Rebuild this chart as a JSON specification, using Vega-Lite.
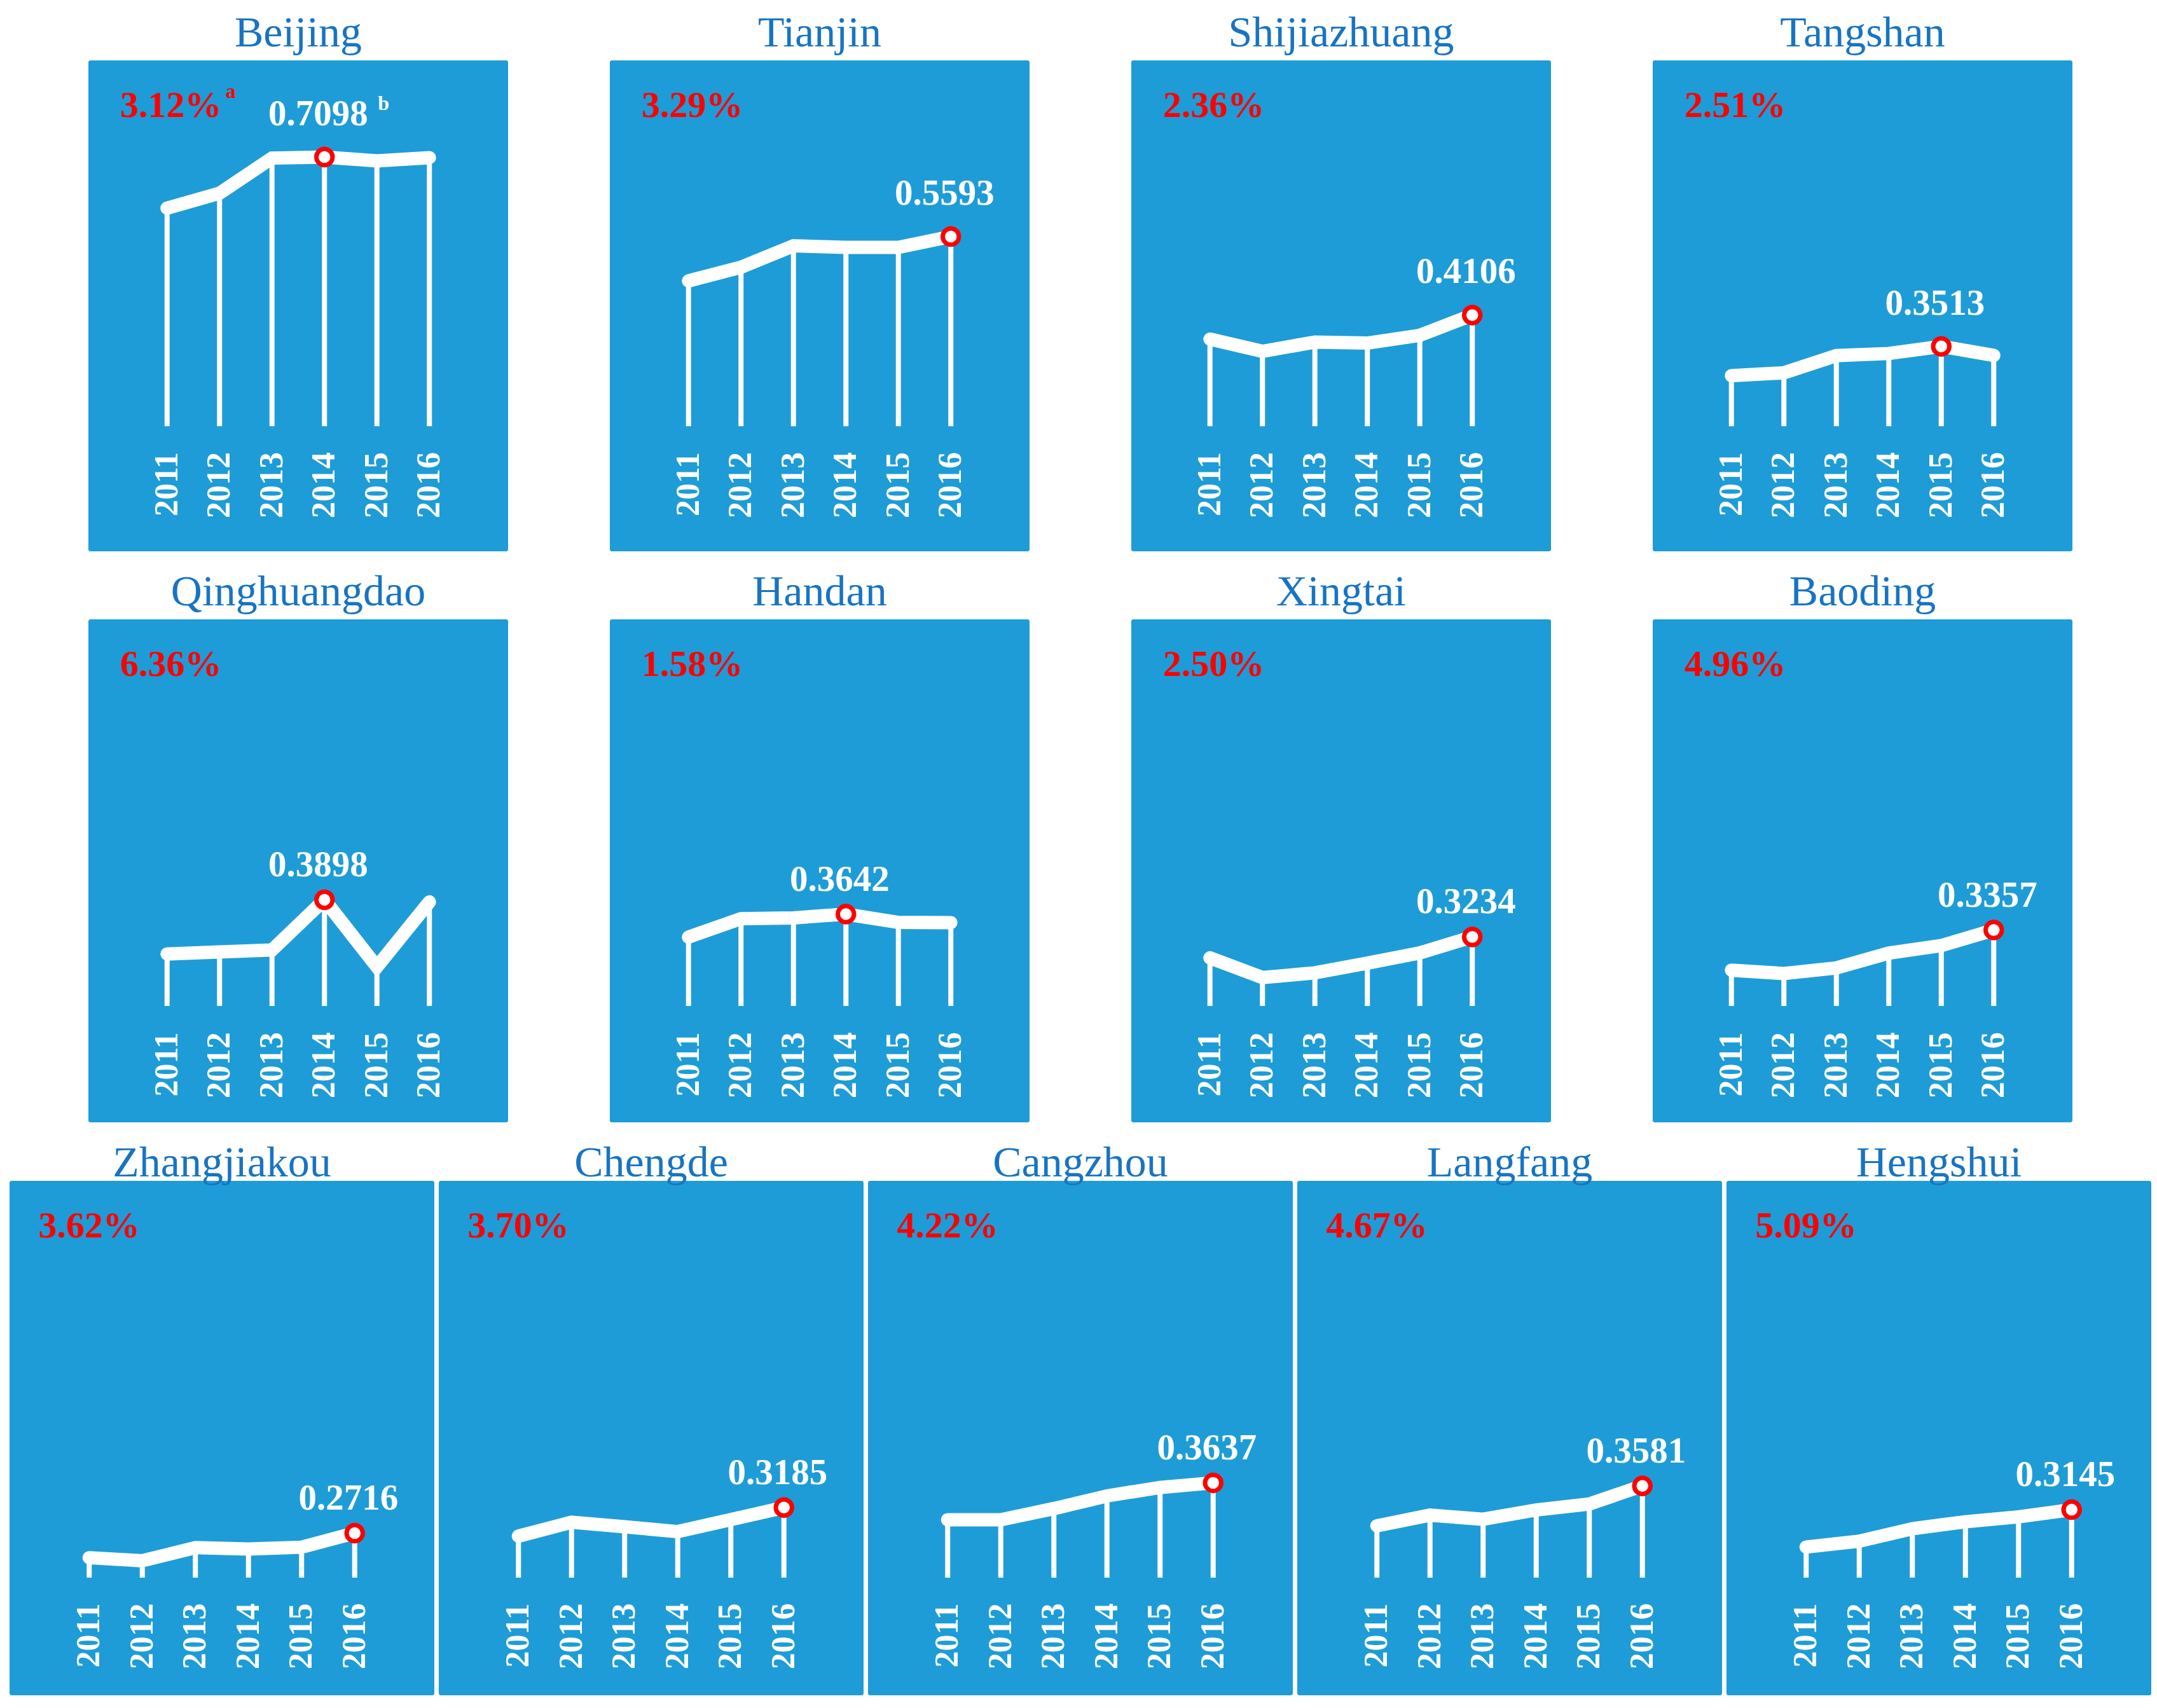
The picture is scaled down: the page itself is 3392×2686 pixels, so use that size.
{
  "$schema": "https://vega.github.io/schema/vega-lite/v6.json",
  "background": "white",
  "padding": {"left": 15, "top": 18, "right": 0, "bottom": 0},
  "center": true,
  "spacing": 30,
  "config": {
    "font": "Liberation Serif",
    "view": {"fill": "#1E9CD7", "stroke": null, "cornerRadius": 3}
  },
  "datasets": {
    "hebei": [
      {"city": "Beijing", "year": 2011, "value": 0.6130, "rate": "3.12%", "rateNote": "a", "valueNote": "b"},
      {"city": "Beijing", "year": 2012, "value": 0.6413, "rate": "3.12%", "rateNote": "a", "valueNote": "b"},
      {"city": "Beijing", "year": 2013, "value": 0.7080, "rate": "3.12%", "rateNote": "a", "valueNote": "b"},
      {"city": "Beijing", "year": 2014, "value": 0.7098, "rate": "3.12%", "rateNote": "a", "valueNote": "b"},
      {"city": "Beijing", "year": 2015, "value": 0.7027, "rate": "3.12%", "rateNote": "a", "valueNote": "b"},
      {"city": "Beijing", "year": 2016, "value": 0.7088, "rate": "3.12%", "rateNote": "a", "valueNote": "b"},
      {"city": "Tianjin", "year": 2011, "value": 0.4753, "rate": "3.29%"},
      {"city": "Tianjin", "year": 2012, "value": 0.5012, "rate": "3.29%"},
      {"city": "Tianjin", "year": 2013, "value": 0.5417, "rate": "3.29%"},
      {"city": "Tianjin", "year": 2014, "value": 0.5389, "rate": "3.29%"},
      {"city": "Tianjin", "year": 2015, "value": 0.5389, "rate": "3.29%"},
      {"city": "Tianjin", "year": 2016, "value": 0.5593, "rate": "3.29%"},
      {"city": "Shijiazhuang", "year": 2011, "value": 0.3650, "rate": "2.36%"},
      {"city": "Shijiazhuang", "year": 2012, "value": 0.3419, "rate": "2.36%"},
      {"city": "Shijiazhuang", "year": 2013, "value": 0.3594, "rate": "2.36%"},
      {"city": "Shijiazhuang", "year": 2014, "value": 0.3574, "rate": "2.36%"},
      {"city": "Shijiazhuang", "year": 2015, "value": 0.3722, "rate": "2.36%"},
      {"city": "Shijiazhuang", "year": 2016, "value": 0.4106, "rate": "2.36%"},
      {"city": "Tangshan", "year": 2011, "value": 0.2958, "rate": "2.51%"},
      {"city": "Tangshan", "year": 2012, "value": 0.3011, "rate": "2.51%"},
      {"city": "Tangshan", "year": 2013, "value": 0.3338, "rate": "2.51%"},
      {"city": "Tangshan", "year": 2014, "value": 0.3378, "rate": "2.51%"},
      {"city": "Tangshan", "year": 2015, "value": 0.3513, "rate": "2.51%"},
      {"city": "Tangshan", "year": 2016, "value": 0.3342, "rate": "2.51%"},
      {"city": "Qinghuangdao", "year": 2011, "value": 0.2930, "rate": "6.36%"},
      {"city": "Qinghuangdao", "year": 2012, "value": 0.2965, "rate": "6.36%"},
      {"city": "Qinghuangdao", "year": 2013, "value": 0.3000, "rate": "6.36%"},
      {"city": "Qinghuangdao", "year": 2014, "value": 0.3898, "rate": "6.36%"},
      {"city": "Qinghuangdao", "year": 2015, "value": 0.2700, "rate": "6.36%"},
      {"city": "Qinghuangdao", "year": 2016, "value": 0.3860, "rate": "6.36%"},
      {"city": "Handan", "year": 2011, "value": 0.3231, "rate": "1.58%"},
      {"city": "Handan", "year": 2012, "value": 0.3561, "rate": "1.58%"},
      {"city": "Handan", "year": 2013, "value": 0.3575, "rate": "1.58%"},
      {"city": "Handan", "year": 2014, "value": 0.3642, "rate": "1.58%"},
      {"city": "Handan", "year": 2015, "value": 0.3494, "rate": "1.58%"},
      {"city": "Handan", "year": 2016, "value": 0.3490, "rate": "1.58%"},
      {"city": "Xingtai", "year": 2011, "value": 0.2860, "rate": "2.50%"},
      {"city": "Xingtai", "year": 2012, "value": 0.2508, "rate": "2.50%"},
      {"city": "Xingtai", "year": 2013, "value": 0.2592, "rate": "2.50%"},
      {"city": "Xingtai", "year": 2014, "value": 0.2766, "rate": "2.50%"},
      {"city": "Xingtai", "year": 2015, "value": 0.2947, "rate": "2.50%"},
      {"city": "Xingtai", "year": 2016, "value": 0.3234, "rate": "2.50%"},
      {"city": "Baoding", "year": 2011, "value": 0.2640, "rate": "4.96%"},
      {"city": "Baoding", "year": 2012, "value": 0.2580, "rate": "4.96%"},
      {"city": "Baoding", "year": 2013, "value": 0.2680, "rate": "4.96%"},
      {"city": "Baoding", "year": 2014, "value": 0.2945, "rate": "4.96%"},
      {"city": "Baoding", "year": 2015, "value": 0.3080, "rate": "4.96%"},
      {"city": "Baoding", "year": 2016, "value": 0.3357, "rate": "4.96%"},
      {"city": "Zhangjiakou", "year": 2011, "value": 0.2265, "rate": "3.62%"},
      {"city": "Zhangjiakou", "year": 2012, "value": 0.2209, "rate": "3.62%"},
      {"city": "Zhangjiakou", "year": 2013, "value": 0.2450, "rate": "3.62%"},
      {"city": "Zhangjiakou", "year": 2014, "value": 0.2425, "rate": "3.62%"},
      {"city": "Zhangjiakou", "year": 2015, "value": 0.2457, "rate": "3.62%"},
      {"city": "Zhangjiakou", "year": 2016, "value": 0.2716, "rate": "3.62%"},
      {"city": "Chengde", "year": 2011, "value": 0.2660, "rate": "3.70%"},
      {"city": "Chengde", "year": 2012, "value": 0.2915, "rate": "3.70%"},
      {"city": "Chengde", "year": 2013, "value": 0.2831, "rate": "3.70%"},
      {"city": "Chengde", "year": 2014, "value": 0.2743, "rate": "3.70%"},
      {"city": "Chengde", "year": 2015, "value": 0.2962, "rate": "3.70%"},
      {"city": "Chengde", "year": 2016, "value": 0.3185, "rate": "3.70%"},
      {"city": "Cangzhou", "year": 2011, "value": 0.2960, "rate": "4.22%"},
      {"city": "Cangzhou", "year": 2012, "value": 0.2960, "rate": "4.22%"},
      {"city": "Cangzhou", "year": 2013, "value": 0.3165, "rate": "4.22%"},
      {"city": "Cangzhou", "year": 2014, "value": 0.3397, "rate": "4.22%"},
      {"city": "Cangzhou", "year": 2015, "value": 0.3552, "rate": "4.22%"},
      {"city": "Cangzhou", "year": 2016, "value": 0.3637, "rate": "4.22%"},
      {"city": "Langfang", "year": 2011, "value": 0.2850, "rate": "4.67%"},
      {"city": "Langfang", "year": 2012, "value": 0.3045, "rate": "4.67%"},
      {"city": "Langfang", "year": 2013, "value": 0.2969, "rate": "4.67%"},
      {"city": "Langfang", "year": 2014, "value": 0.3140, "rate": "4.67%"},
      {"city": "Langfang", "year": 2015, "value": 0.3250, "rate": "4.67%"},
      {"city": "Langfang", "year": 2016, "value": 0.3581, "rate": "4.67%"},
      {"city": "Hengshui", "year": 2011, "value": 0.2460, "rate": "5.09%"},
      {"city": "Hengshui", "year": 2012, "value": 0.2567, "rate": "5.09%"},
      {"city": "Hengshui", "year": 2013, "value": 0.2797, "rate": "5.09%"},
      {"city": "Hengshui", "year": 2014, "value": 0.2924, "rate": "5.09%"},
      {"city": "Hengshui", "year": 2015, "value": 0.3013, "rate": "5.09%"},
      {"city": "Hengshui", "year": 2016, "value": 0.3145, "rate": "5.09%"}
    ]
  },
  "data": {"name": "hebei"},
  "vconcat": [
    {
      "transform": [{"filter": {"field": "city", "oneOf": ["Beijing", "Tianjin", "Shijiazhuang", "Tangshan"]}}],
      "facet": {"field": "city", "type": "nominal", "sort": ["Beijing", "Tianjin", "Shijiazhuang", "Tangshan"],
        "header": {"title": null, "labelExpr": "''", "labelFontSize": 1, "labelPadding": 0}},
      "columns": 4,
      "spacing": 160,
      "spec": {
        "width": 660, "height": 772,
        "resolve": {"scale": {"x": "independent"}},
        "layer": [
          {"layer": [
            {"mark": {"type": "rule", "color": "white", "strokeWidth": 8},
             "encoding": {"x": {"field": "year", "type": "quantitative", "scale": {"domain": [2009.5, 2017.5], "nice": false, "zero": false}, "axis": null},
               "y": {"field": "value", "type": "quantitative", "scale": {"domain": [-0.037, 0.893], "nice": false, "zero": false},
                 "axis": {"labels": false, "ticks": false, "domain": false, "grid": false, "title": null, "minExtent": 82, "maxExtent": 82}},
               "y2": {"datum": 0.2}}},
            {"mark": {"type": "line", "color": "white", "strokeWidth": 21, "strokeCap": "round"},
             "encoding": {"x": {"field": "year", "type": "quantitative"}, "y": {"field": "value", "type": "quantitative"}}},
            {"mark": {"type": "text", "color": "white", "font": "Liberation Serif", "fontWeight": "bold", "fontSize": 52, "angle": 270, "align": "right", "baseline": "middle"},
             "encoding": {"x": {"field": "year", "type": "quantitative"}, "y": {"datum": 0.151}, "text": {"field": "year", "type": "nominal"}}},
            {"transform": [{"joinaggregate": [{"op": "max", "field": "value", "as": "maxValue"}], "groupby": ["city"]}, {"filter": "datum.value === datum.maxValue"}],
             "layer": [
               {"mark": {"type": "point", "shape": "circle", "fill": "white", "fillOpacity": 1, "stroke": "red", "strokeWidth": 7, "size": 650, "opacity": 1},
                "encoding": {"x": {"field": "year", "type": "quantitative"}, "y": {"field": "value", "type": "quantitative"}}},
               {"mark": {"type": "text", "color": "white", "font": "Liberation Serif", "fontWeight": "bold", "fontSize": 57, "baseline": "alphabetic", "dx": -10, "dy": -50},
                "encoding": {"x": {"field": "year", "type": "quantitative"}, "y": {"field": "value", "type": "quantitative"}, "text": {"field": "value", "type": "quantitative", "format": ".4f"}}},
               {"transform": [{"filter": "datum.valueNote"}],
                "mark": {"type": "text", "color": "white", "font": "Liberation Serif", "fontWeight": "bold", "fontSize": 32, "align": "left", "baseline": "alphabetic", "dx": 84, "dy": -74},
                "encoding": {"x": {"field": "year", "type": "quantitative"}, "y": {"field": "value", "type": "quantitative"}, "text": {"field": "valueNote"}}}
             ]},
            {"transform": [{"filter": "datum.year === 2011"}],
             "layer": [
               {"mark": {"type": "text", "color": "red", "font": "Liberation Serif", "fontWeight": "bold", "fontSize": 58, "align": "left", "baseline": "alphabetic", "dx": -74, "dy": 89},
                "encoding": {"x": {"field": "year", "type": "quantitative"}, "y": {"datum": 0.893}, "text": {"field": "rate"}}},
               {"transform": [{"filter": "datum.rateNote"}],
                "mark": {"type": "text", "color": "red", "font": "Liberation Serif", "fontWeight": "bold", "fontSize": 32, "align": "left", "baseline": "alphabetic", "dx": 92, "dy": 59},
                "encoding": {"x": {"field": "year", "type": "quantitative"}, "y": {"datum": 0.893}, "text": {"field": "rateNote"}}}
             ]}
          ]},
          {"transform": [{"filter": "datum.year === 2011"}],
           "mark": {"type": "text", "color": "#1874C2", "font": "Liberation Serif", "fontSize": 68, "align": "center", "baseline": "alphabetic", "dy": -22},
           "encoding": {"x": {"datum": 0.5, "type": "quantitative", "scale": {"domain": [0, 1]}, "axis": null}, "y": {"datum": 0.893}, "text": {"field": "city"}}}
        ]
      }
    },
    {
      "transform": [{"filter": {"field": "city", "oneOf": ["Qinghuangdao", "Handan", "Xingtai", "Baoding"]}}],
      "facet": {"field": "city", "type": "nominal", "sort": ["Qinghuangdao", "Handan", "Xingtai", "Baoding"],
        "header": {"title": null, "labelExpr": "''", "labelFontSize": 1, "labelPadding": 0}},
      "columns": 4,
      "spacing": 160,
      "spec": {
        "width": 660, "height": 791,
        "resolve": {"scale": {"x": "independent"}},
        "layer": [
          {"layer": [
            {"mark": {"type": "rule", "color": "white", "strokeWidth": 8},
             "encoding": {"x": {"field": "year", "type": "quantitative", "scale": {"domain": [2009.5, 2017.5], "nice": false, "zero": false}, "axis": null},
               "y": {"field": "value", "type": "quantitative", "scale": {"domain": [-0.008, 0.891], "nice": false, "zero": false},
                 "axis": {"labels": false, "ticks": false, "domain": false, "grid": false, "title": null, "minExtent": 82, "maxExtent": 82}},
               "y2": {"datum": 0.2}}},
            {"mark": {"type": "line", "color": "white", "strokeWidth": 21, "strokeCap": "round"},
             "encoding": {"x": {"field": "year", "type": "quantitative"}, "y": {"field": "value", "type": "quantitative"}}},
            {"mark": {"type": "text", "color": "white", "font": "Liberation Serif", "fontWeight": "bold", "fontSize": 52, "angle": 270, "align": "right", "baseline": "middle"},
             "encoding": {"x": {"field": "year", "type": "quantitative"}, "y": {"datum": 0.153}, "text": {"field": "year", "type": "nominal"}}},
            {"transform": [{"joinaggregate": [{"op": "max", "field": "value", "as": "maxValue"}], "groupby": ["city"]}, {"filter": "datum.value === datum.maxValue"}],
             "layer": [
               {"mark": {"type": "point", "shape": "circle", "fill": "white", "fillOpacity": 1, "stroke": "red", "strokeWidth": 7, "size": 650, "opacity": 1},
                "encoding": {"x": {"field": "year", "type": "quantitative"}, "y": {"field": "value", "type": "quantitative"}}},
               {"mark": {"type": "text", "color": "white", "font": "Liberation Serif", "fontWeight": "bold", "fontSize": 57, "baseline": "alphabetic", "dx": -10, "dy": -37},
                "encoding": {"x": {"field": "year", "type": "quantitative"}, "y": {"field": "value", "type": "quantitative"}, "text": {"field": "value", "type": "quantitative", "format": ".4f"}}}
             ]},
            {"transform": [{"filter": "datum.year === 2011"}],
             "mark": {"type": "text", "color": "red", "font": "Liberation Serif", "fontWeight": "bold", "fontSize": 58, "align": "left", "baseline": "alphabetic", "dx": -74, "dy": 89},
             "encoding": {"x": {"field": "year", "type": "quantitative"}, "y": {"datum": 0.891}, "text": {"field": "rate"}}}
          ]},
          {"transform": [{"filter": "datum.year === 2011"}],
           "mark": {"type": "text", "color": "#1874C2", "font": "Liberation Serif", "fontSize": 68, "align": "center", "baseline": "alphabetic", "dy": -22},
           "encoding": {"x": {"datum": 0.5, "type": "quantitative", "scale": {"domain": [0, 1]}, "axis": null}, "y": {"datum": 0.891}, "text": {"field": "city"}}}
        ]
      }
    },
    {
      "transform": [{"filter": {"field": "city", "oneOf": ["Zhangjiakou", "Chengde", "Cangzhou", "Langfang", "Hengshui"]}}],
      "facet": {"field": "city", "type": "nominal", "sort": ["Zhangjiakou", "Chengde", "Cangzhou", "Langfang", "Hengshui"],
        "header": {"title": null, "labelExpr": "''", "labelFontSize": 1, "labelPadding": 0}},
      "columns": 5,
      "spacing": 7,
      "spec": {
        "width": 668, "height": 809,
        "resolve": {"scale": {"x": "independent"}},
        "layer": [
          {"layer": [
            {"mark": {"type": "rule", "color": "white", "strokeWidth": 8},
             "encoding": {"x": {"field": "year", "type": "quantitative", "scale": {"domain": [2009.5, 2017.5], "nice": false, "zero": false}, "axis": null},
               "y": {"field": "value", "type": "quantitative", "scale": {"domain": [-0.0256, 0.917], "nice": false, "zero": false}, "axis": null},
               "y2": {"datum": 0.19}}},
            {"mark": {"type": "line", "color": "white", "strokeWidth": 21, "strokeCap": "round"},
             "encoding": {"x": {"field": "year", "type": "quantitative"}, "y": {"field": "value", "type": "quantitative"}}},
            {"mark": {"type": "text", "color": "white", "font": "Liberation Serif", "fontWeight": "bold", "fontSize": 52, "angle": 270, "align": "right", "baseline": "middle"},
             "encoding": {"x": {"field": "year", "type": "quantitative"}, "y": {"datum": 0.143}, "text": {"field": "year", "type": "nominal"}}},
            {"transform": [{"joinaggregate": [{"op": "max", "field": "value", "as": "maxValue"}], "groupby": ["city"]}, {"filter": "datum.value === datum.maxValue"}],
             "layer": [
               {"mark": {"type": "point", "shape": "circle", "fill": "white", "fillOpacity": 1, "stroke": "red", "strokeWidth": 7, "size": 650, "opacity": 1},
                "encoding": {"x": {"field": "year", "type": "quantitative"}, "y": {"field": "value", "type": "quantitative"}}},
               {"mark": {"type": "text", "color": "white", "font": "Liberation Serif", "fontWeight": "bold", "fontSize": 57, "baseline": "alphabetic", "dx": -10, "dy": -37},
                "encoding": {"x": {"field": "year", "type": "quantitative"}, "y": {"field": "value", "type": "quantitative"}, "text": {"field": "value", "type": "quantitative", "format": ".4f"}}}
             ]},
            {"transform": [{"filter": "datum.year === 2011"}],
             "mark": {"type": "text", "color": "red", "font": "Liberation Serif", "fontWeight": "bold", "fontSize": 58, "align": "left", "baseline": "alphabetic", "dx": -80, "dy": 89},
             "encoding": {"x": {"field": "year", "type": "quantitative"}, "y": {"datum": 0.917}, "text": {"field": "rate"}}}
          ]},
          {"transform": [{"filter": "datum.year === 2011"}],
           "mark": {"type": "text", "color": "#1874C2", "font": "Liberation Serif", "fontSize": 68, "align": "center", "baseline": "alphabetic", "dy": -7},
           "encoding": {"x": {"datum": 0.5, "type": "quantitative", "scale": {"domain": [0, 1]}, "axis": null}, "y": {"datum": 0.917}, "text": {"field": "city"}}}
        ]
      }
    }
  ]
}
